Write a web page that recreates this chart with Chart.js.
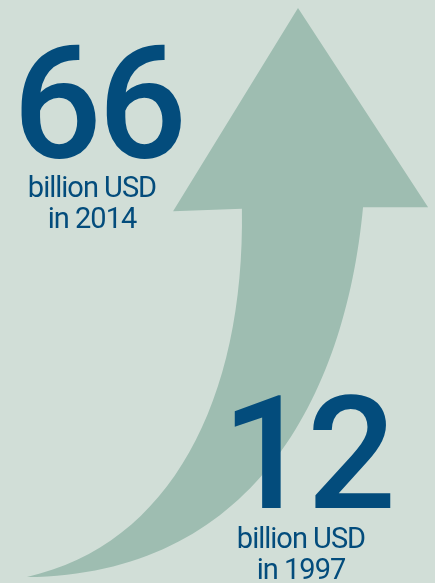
<!DOCTYPE html>
<html>
<head>
<meta charset="utf-8">
<script src="https://cdn.jsdelivr.net/npm/chart.js@4/dist/chart.umd.min.js"></script>
<style>
  html, body { margin: 0; padding: 0; background: #d1ded7; }
  #wrap { position: relative; width: 435px; height: 583px; }
</style>
</head>
<body>
<div id="wrap"><canvas id="growth"></canvas></div>
<script>
// years and investment volume (billion USD)
const years = [1997, 2014];
const values = [12, 66];
const unit = 'billion USD';

const TEXT = '#034c7c';
const ARROW = '#9ebdb1';

// curved arrow from the first value to the last one,
// shape given as fractions of the box between the two points
const arrowPlugin = {
  id: 'growthArrow',
  beforeDatasetsDraw(chart) {
    const { ctx, scales: { x, y } } = chart;
    const x0 = x.getPixelForValue(years[0]), y0 = y.getPixelForValue(values[0]);
    const x1 = x.getPixelForValue(years[1]), y1 = y.getPixelForValue(values[1]);
    const w = x1 - x0, h = y0 - y1;
    const P = (u, v) => [x0 + u * w, y0 - v * h];

    ctx.save();
    ctx.fillStyle = ARROW;
    ctx.beginPath();
    ctx.moveTo(x0, y0);
    ctx.bezierCurveTo(...P(0.528, 0.056), ...P(0.804, 0.311), ...P(0.793, 0.647));
    ctx.lineTo(...P(0.539, 0.643));
    ctx.lineTo(x1, y1);
    ctx.lineTo(...P(1.480, 0.650));
    ctx.lineTo(...P(1.240, 0.650));
    ctx.bezierCurveTo(...P(1.173, 0.311), ...P(0.823, 0.0035), x0, y0);
    ctx.closePath();
    ctx.fill();
    ctx.restore();
  }
};

// big value + caption blocks
const labelSpots = [
  { cx: 307, base: 508 },  // 1997
  { cx: 98, base: 157 }    // 2014
];

const labelPlugin = {
  id: 'valueLabels',
  afterDatasetsDraw(chart) {
    const { ctx } = chart;
    ctx.save();
    ctx.fillStyle = TEXT;
    ctx.textAlign = 'center';
    ctx.textBaseline = 'alphabetic';
    values.forEach((v, i) => {
      const s = labelSpots[i];
      ctx.font = '500 157px Roboto';
      ctx.letterSpacing = '-4px';
      ctx.fillText(String(v), s.cx, s.base);
      ctx.font = '29px Roboto';
      ctx.letterSpacing = '-1px';
      ctx.fillText(unit, s.cx - 6, s.base + 40);
      ctx.fillText('in ' + years[i], s.cx - 6, s.base + 71);
    });
    ctx.restore();
  }
};

new Chart(document.getElementById('growth'), {
  type: 'scatter',
  data: {
    datasets: [{
      data: years.map((yr, i) => ({ x: yr, y: values[i] })),
      pointRadius: 0,
      showLine: false
    }]
  },
  options: {
    responsive: true,
    maintainAspectRatio: false,
    animation: false,
    layout: { padding: { left: 27, right: 137, top: 8, bottom: 6 } },
    scales: {
      x: { type: 'linear', display: false, min: years[0], max: years[years.length - 1] },
      y: { type: 'linear', display: false, min: Math.min(...values), max: Math.max(...values) }
    },
    plugins: {
      legend: { display: false },
      tooltip: { enabled: false }
    }
  },
  plugins: [arrowPlugin, labelPlugin]
});
</script>
</body>
</html>
